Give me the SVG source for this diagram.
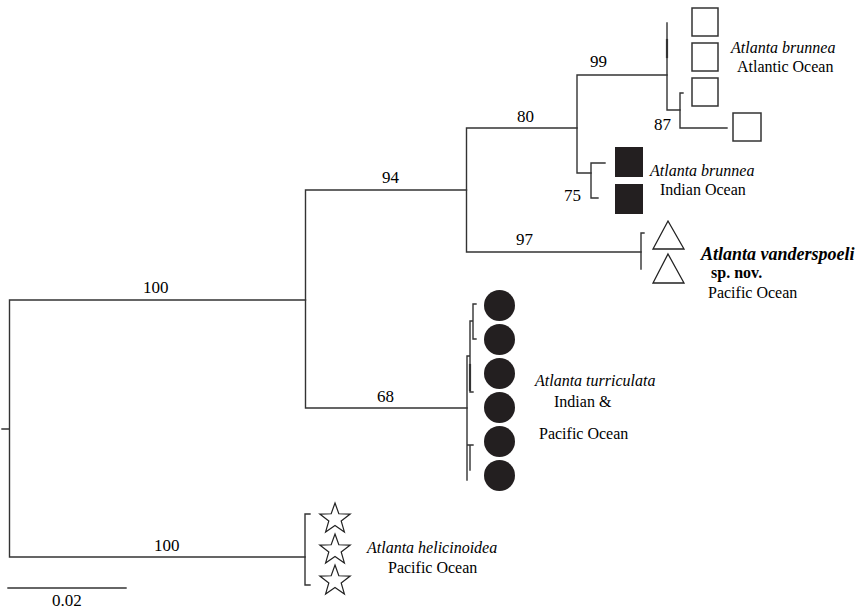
<svg xmlns="http://www.w3.org/2000/svg" width="862" height="610" viewBox="0 0 862 610">
<style>
.br{stroke:#333;stroke-width:1.4;fill:none;stroke-linecap:square}
.sq{fill:#fff;stroke:#333;stroke-width:1.5}
.fsq{fill:#231f20;stroke:none}
.tri{fill:#fff;stroke:#222;stroke-width:1.3}
.dot{fill:#231f20}
.star{fill:#fff;stroke:#222;stroke-width:1.2}
</style>
<defs>
<polygon id="starShape" points="0,-16 3.82,-5.26 15.22,-4.94 6.18,2.01 9.40,12.94 0,6.5 -9.40,12.94 -6.18,2.01 -15.22,-4.94 -3.82,-5.26"/>
</defs>
<rect width="862" height="610" fill="#fff"/>
<g id="connectors">
<path class="br" d="M2,429 H9.5 M9.5,300 V557 M9.5,300 H305.5 M9.5,557 H305"/>
<path class="br" d="M305.5,190 V408 M305.5,190 H466.5 M305.5,408 H467"/>
<path class="br" d="M466.5,128 V252 M466.5,128 H577 M466.5,252 H641"/>
<path class="br" d="M577,75 V173 M577,75 H667 M577,173 H591"/>
<path class="br" d="M667,23 V110 M667,110 H680"/>
<path class="br" d="M667,40 V57" style="stroke-width:2.2"/>
<path class="br" d="M680,93 V128 M680,93 H683 M680,128 H727"/>
<path class="br" d="M591,163 V198 M591,163 H605 M591,198 H598"/>
<path class="br" d="M641,233 V269 M641,233 H644"/>
<path class="br" d="M467,356 V480 M467,356 H470 M470,321 V392 M470,321 H473 M470,392 H473 M473,304 V339 M473,304 H476 M473,339 H476 M467,445 H470 M470,445 V470 M470,445 H473"/>
<path class="br" d="M470,365 V390" style="stroke-width:2.2"/>
<path class="br" d="M305,514 V585 M305,514 H310 M305,585 H310"/>
<path class="br" d="M8,588 H126"/>
</g>
<g id="labels-bootstrap">
<text x="143" y="293" font-family="Liberation Serif" font-size="17">100</text>
<text x="154" y="551" font-family="Liberation Serif" font-size="17">100</text>
<text x="382" y="183" font-family="Liberation Serif" font-size="17">94</text>
<text x="517" y="122" font-family="Liberation Serif" font-size="17">80</text>
<text x="590" y="67" font-family="Liberation Serif" font-size="17">99</text>
<text x="654" y="130" font-family="Liberation Serif" font-size="17">87</text>
<text x="564" y="201" font-family="Liberation Serif" font-size="17">75</text>
<text x="516" y="245" font-family="Liberation Serif" font-size="17">97</text>
<text x="377" y="402" font-family="Liberation Serif" font-size="17">68</text>
<text x="52" y="606" font-family="Liberation Serif" font-size="17">0.02</text>
</g>
<g id="node-brunnea-atlantic">
<rect class="sq" x="692" y="8" width="26" height="28"/>
<rect class="sq" x="692" y="43" width="26" height="28"/>
<rect class="sq" x="692" y="78" width="26" height="28"/>
<rect class="sq" x="733" y="113" width="28" height="28"/>
<text x="731" y="53" font-family="Liberation Serif" font-size="16" font-style="italic">Atlanta brunnea</text>
<text x="737" y="72" font-family="Liberation Serif" font-size="16">Atlantic Ocean</text>
</g>
<g id="node-brunnea-indian">
<rect class="fsq" x="615" y="147" width="28" height="30"/>
<rect class="fsq" x="615" y="184" width="28" height="30"/>
<text x="650" y="176" font-family="Liberation Serif" font-size="16" font-style="italic">Atlanta brunnea</text>
<text x="660" y="195" font-family="Liberation Serif" font-size="16">Indian Ocean</text>
</g>
<g id="node-vanderspoeli">
<polygon class="tri" points="668,221 684,249 653,249"/>
<polygon class="tri" points="668,254 684,283 653,283"/>
<text x="701" y="260" font-family="Liberation Serif" font-size="18" font-style="italic" font-weight="bold">Atlanta vanderspoeli</text>
<text x="711" y="278" font-family="Liberation Serif" font-size="16" font-weight="bold">sp. nov.</text>
<text x="708" y="298" font-family="Liberation Serif" font-size="16">Pacific Ocean</text>
</g>
<g id="node-turriculata">
<circle class="dot" cx="499.5" cy="305.5" r="15.5"/>
<circle class="dot" cx="499.5" cy="339.5" r="15.5"/>
<circle class="dot" cx="499.5" cy="373.5" r="15.5"/>
<circle class="dot" cx="499.5" cy="407.5" r="15.5"/>
<circle class="dot" cx="499.5" cy="441.5" r="15.5"/>
<circle class="dot" cx="499.5" cy="475.5" r="15.5"/>
<text x="535" y="386" font-family="Liberation Serif" font-size="16" font-style="italic">Atlanta turriculata</text>
<text x="554" y="407" font-family="Liberation Serif" font-size="16">Indian &amp;</text>
<text x="539" y="439" font-family="Liberation Serif" font-size="16">Pacific Ocean</text>
</g>
<g id="node-helicinoidea">
<use href="#starShape" class="star" x="335" y="519"/>
<use href="#starShape" class="star" x="335" y="550"/>
<use href="#starShape" class="star" x="335" y="581"/>
<text x="367" y="553" font-family="Liberation Serif" font-size="16" font-style="italic">Atlanta helicinoidea</text>
<text x="388" y="573" font-family="Liberation Serif" font-size="16">Pacific Ocean</text>
</g>
</svg>
